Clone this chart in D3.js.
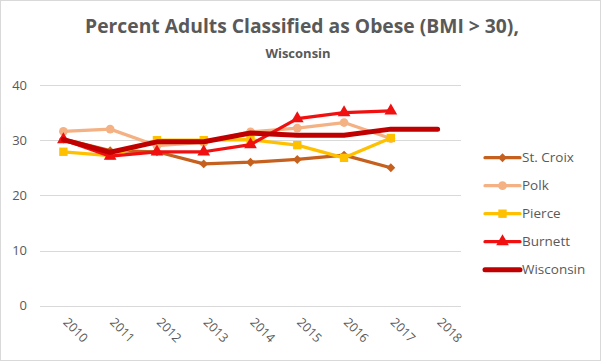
<!DOCTYPE html>
<html>
<head>
<meta charset="utf-8">
<script src="https://cdn.jsdelivr.net/npm/d3@7"></script>
<style>
  body { margin: 0; background: #fff; }
  svg { display: block; font-family: "Open Sans", "Liberation Sans", sans-serif; }
</style>
</head>
<body>
<div id="chart"></div>
<script>
var years = ['2010', '2011', '2012', '2013', '2014', '2015', '2016', '2017', '2018'];
var yTicks = [0, 10, 20, 30, 40];

var stCroix   = [30.2, 28.1, 27.9, 25.7, 26.0, 26.5, 27.3, 25.0, null];
var polk      = [31.6, 32.0, 29.0, 29.6, 31.5, 32.2, 33.2, 30.3, null];
var pierce    = [27.9, 27.2, 30.0, 30.0, 30.1, 29.1, 26.8, 30.4, null];
var burnett   = [30.1, 27.1, 27.9, 27.9, 29.2, 33.9, 35.0, 35.3, null];
var wisconsin = [30.1, 27.8, 29.7, 29.7, 31.3, 30.9, 30.9, 32.0, 32.0];

var series = [
  { name: 'St. Croix', values: stCroix,   color: '#c5601e', width: 3.25, marker: d3.symbolDiamond2, size: 50 },
  { name: 'Polk',      values: polk,      color: '#f4b183', width: 3.25, marker: d3.symbolCircle,   size: 60 },
  { name: 'Pierce',    values: pierce,    color: '#ffc000', width: 3.25, marker: d3.symbolSquare,   size: 70 },
  { name: 'Burnett',   values: burnett,   color: '#f01010', width: 3.25, marker: d3.symbolTriangle, size: 70 },
  { name: 'Wisconsin', values: wisconsin, color: '#c00000', width: 5,    marker: null,              size: 0 }
];

var W = 601, H = 361;

var svg = d3.select('#chart').append('svg').attr('width', W).attr('height', H);

svg.append('rect').attr('x', 0.5).attr('y', 0.5).attr('width', W - 1).attr('height', H - 1)
  .attr('fill', '#fff').attr('stroke', '#d9d9d9');

// title
svg.append('text').attr('x', 302).attr('y', 33).attr('text-anchor', 'middle')
  .attr('font-size', 19.3).attr('font-weight', 'bold').attr('fill', '#595959')
  .text('Percent Adults Classified as Obese (BMI > 30),');
svg.append('text').attr('x', 298).attr('y', 58).attr('text-anchor', 'middle')
  .attr('font-size', 13).attr('font-weight', 'bold').attr('fill', '#595959')
  .text('Wisconsin');

var x = d3.scaleBand().domain(years).range([40, 461]);
var y = d3.scaleLinear().domain([0, 40]).range([305.7, 85]);

// gridlines
svg.append('g').selectAll('line').data(yTicks).join('line')
  .attr('x1', 40).attr('x2', 461)
  .attr('y1', d => Math.round(y(d)) + 0.5).attr('y2', d => Math.round(y(d)) + 0.5)
  .attr('stroke', '#d9d9d9').attr('stroke-width', 1);

// y axis labels
var yAxis = svg.append('g').attr('transform', 'translate(27,0)')
  .call(d3.axisLeft(y).tickValues(yTicks).tickSize(0).tickPadding(0));
yAxis.select('.domain').remove();
yAxis.selectAll('text').attr('font-size', 13).attr('fill', '#595959')
  .attr('font-family', '"Open Sans", "Liberation Sans", sans-serif');

// x axis labels (rotated)
var xAxis = svg.append('g').attr('transform', 'translate(0,306)')
  .call(d3.axisBottom(x).tickSize(0).tickPadding(0));
xAxis.select('.domain').remove();
xAxis.selectAll('text')
  .attr('font-size', 12.5).attr('fill', '#595959')
  .attr('font-family', '"Open Sans", "Liberation Sans", sans-serif')
  .attr('text-anchor', 'start')
  .attr('dy', 0)
  .attr('transform', 'translate(-1,17) rotate(45)');

var cx = d => x(d) + x.bandwidth() / 2;
var line = d3.line()
  .defined(d => d.v != null)
  .x(d => cx(d.year))
  .y(d => y(d.v));

series.forEach(function(s) {
  var pts = years.map((yr, i) => ({ year: yr, v: s.values[i] }));
  var g = svg.append('g');
  g.append('path').datum(pts)
    .attr('fill', 'none').attr('stroke', s.color).attr('stroke-width', s.width)
    .attr('stroke-linejoin', 'round').attr('stroke-linecap', 'round')
    .attr('d', line);
  if (s.marker) {
    g.selectAll('path.m').data(pts.filter(d => d.v != null)).join('path')
      .attr('class', 'm')
      .attr('d', d3.symbol().type(s.marker).size(s.size))
      .attr('transform', d => 'translate(' + cx(d.year) + ',' + y(d.v) + ')')
      .attr('fill', s.color);
  }
});

// legend
var legend = svg.append('g').selectAll('g').data(series).join('g')
  .attr('transform', (d, i) => 'translate(485,' + (157.7 + i * 28) + ')');
legend.append('line').attr('x1', 0).attr('x2', 35)
  .attr('stroke', d => d.color).attr('stroke-width', d => d.width)
  .attr('stroke-linecap', 'round');
legend.filter(d => d.marker).append('path')
  .attr('d', d => d3.symbol().type(d.marker).size(d.size)())
  .attr('transform', 'translate(17.5,0)')
  .attr('fill', d => d.color);
legend.append('text').attr('x', 37).attr('y', 0).attr('dy', '0.35em')
  .attr('font-size', 13.5).attr('fill', '#595959')
  .text(d => d.name);
</script>
</body>
</html>
